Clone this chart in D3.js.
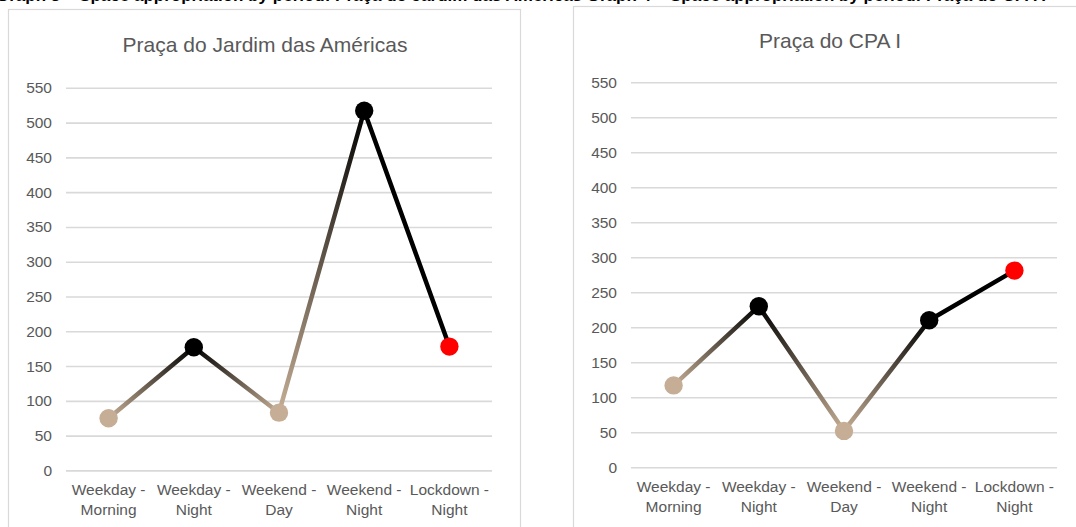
<!DOCTYPE html>
<html>
<head>
<meta charset="utf-8">
<script src="https://cdn.jsdelivr.net/npm/d3@7"></script>
<style>
  html, body { margin: 0; padding: 0; background: #fff; }
  svg { display: block; }
  text { font-family: "Liberation Sans", Arial, sans-serif; }
</style>
</head>
<body>
<svg id="chart" width="1076" height="527"></svg>
<script>
// Period categories shared by both squares (two-line labels)
const categories = [
  ["Weekday -", "Morning"],
  ["Weekday -", "Night"],
  ["Weekend -", "Day"],
  ["Weekend -", "Night"],
  ["Lockdown -", "Night"]
];
// Number of people observed per period
const jardimValues = [75, 177, 83, 517, 178];
const cpaValues = [117, 230, 52, 210, 281];
const yTicks = [0, 50, 100, 150, 200, 250, 300, 350, 400, 450, 500, 550];
const titles = ["Praça do Jardim das Américas", "Praça do CPA I"];
const captionText = "Graph 3 – Space appropriation by period: Praça do Jardim das Américas      Graph 4 – Space appropriation by period: Praça do CPA I";

const BEIGE = "#C5AE95";
const DARK = "#000000";
const RED = "#FF0000";
const GRID = "#D9D9D9";
const LABEL = "#595959";

const svg = d3.select("#chart");
const defs = svg.append("defs");

// Bold caption line running along the top edge, mostly above the page
svg.append("text")
  .attr("x", -4).attr("y", 0.5)
  .attr("font-size", 17).attr("font-weight", "bold").attr("fill", "#000")
  .text(captionText);

// Colour of the line where it passes each point: rising points dark, others beige,
// the final segment always dark
function lineTone(vals, i) {
  if (i === vals.length - 1) return DARK;
  if (i > 0 && vals[i] > vals[i - 1]) return DARK;
  return BEIGE;
}
function markerTone(vals, i) {
  if (i === vals.length - 1) return RED;
  return lineTone(vals, i);
}

function drawPanel(cfg) {
  const g = svg.append("g");
  // panel frame
  g.append("rect")
    .attr("x", cfg.frame[0]).attr("y", cfg.frame[1])
    .attr("width", cfg.frame[2]).attr("height", cfg.frame[3])
    .attr("fill", "#fff").attr("stroke", GRID).attr("stroke-width", 1.2);

  g.append("text")
    .attr("x", cfg.titleX).attr("y", cfg.titleY)
    .attr("text-anchor", "middle").attr("font-size", 21).attr("fill", LABEL)
    .text(cfg.title);

  const x = d3.scaleBand().domain(d3.range(categories.length))
    .range([cfg.x0, cfg.x1]);
  const y = d3.scaleLinear().domain([0, 550]).range([cfg.y0, cfg.y1]);

  // horizontal grid + tick labels via axis
  const yAxis = d3.axisLeft(y).tickValues(yTicks)
    .tickSize(-(cfg.x1 - cfg.x0)).tickPadding(14);
  const ya = g.append("g").attr("transform", `translate(${cfg.x0},0)`).call(yAxis);
  ya.select(".domain").remove();
  ya.selectAll(".tick line").attr("stroke", GRID).attr("stroke-width", 1.6);
  ya.selectAll(".tick text").attr("fill", LABEL).attr("font-size", 15.5)
    .attr("font-family", "'Liberation Sans', Arial, sans-serif");

  // category labels
  const xa = g.append("g");
  categories.forEach((c, i) => {
    const t = xa.append("text")
      .attr("x", x(i) + x.bandwidth() / 2).attr("y", cfg.labelY)
      .attr("text-anchor", "middle").attr("font-size", 15.5).attr("fill", LABEL);
    t.append("tspan").attr("x", x(i) + x.bandwidth() / 2).attr("dy", 0).text(c[0]);
    t.append("tspan").attr("x", x(i) + x.bandwidth() / 2).attr("dy", 19.5).text(c[1]);
  });

  const vals = cfg.values;
  const pts = vals.map((v, i) => [x(i) + x.bandwidth() / 2, y(v)]);

  // line segments, each shaded from one point's tone to the next
  for (let i = 0; i < pts.length - 1; i++) {
    const id = `${cfg.id}-seg${i}`;
    const grad = defs.append("linearGradient").attr("id", id)
      .attr("gradientUnits", "userSpaceOnUse")
      .attr("x1", pts[i][0]).attr("y1", pts[i][1])
      .attr("x2", pts[i + 1][0]).attr("y2", pts[i + 1][1]);
    grad.append("stop").attr("offset", "0%").attr("stop-color", lineTone(vals, i));
    grad.append("stop").attr("offset", "100%").attr("stop-color", lineTone(vals, i + 1));
    g.append("path")
      .attr("d", d3.line()([pts[i], pts[i + 1]]))
      .attr("stroke", `url(#${id})`).attr("stroke-width", 4.5)
      .attr("fill", "none").attr("stroke-linecap", "round");
  }

  g.selectAll("circle.pt").data(vals).join("circle")
    .attr("class", "pt")
    .attr("cx", (d, i) => x(i) + x.bandwidth() / 2)
    .attr("cy", d => y(d))
    .attr("r", 9.2)
    .attr("fill", (d, i) => markerTone(vals, i));
}

drawPanel({
  id: "jardim", title: titles[0], values: jardimValues,
  frame: [8.5, 9.5, 512, 540], titleX: 265, titleY: 52,
  x0: 66, x1: 492, y0: 470.4, y1: 87.8, labelY: 495
});
drawPanel({
  id: "cpa", title: titles[1], values: cpaValues,
  frame: [573.5, 6.5, 540, 540], titleX: 830, titleY: 48,
  x0: 631, x1: 1057, y0: 467.3, y1: 82.3, labelY: 492
});
</script>
</body>
</html>
